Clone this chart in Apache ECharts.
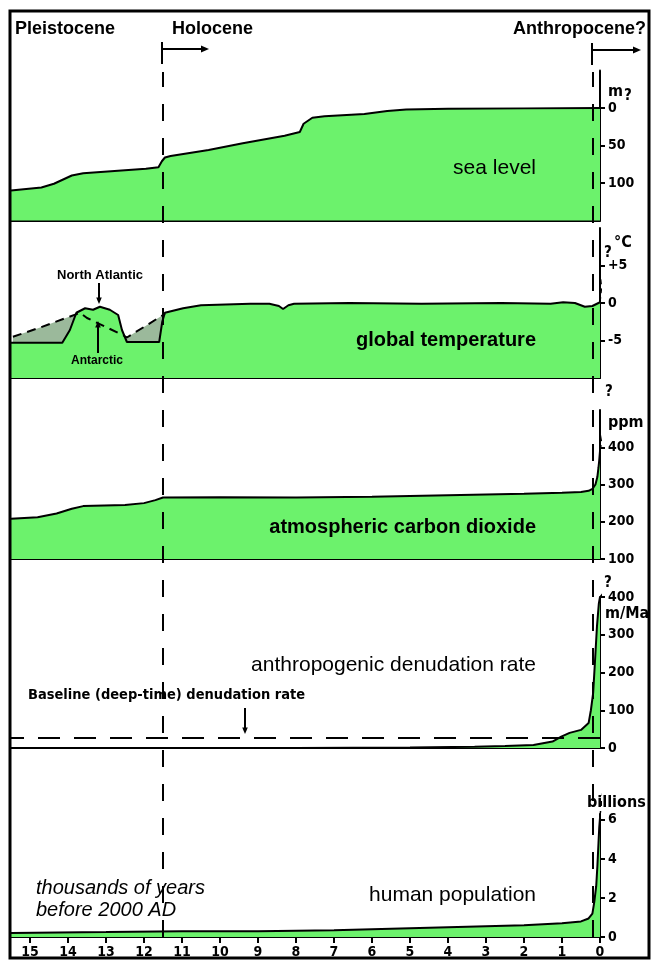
<!DOCTYPE html>
<html><head><meta charset="utf-8">
<script src="https://cdn.jsdelivr.net/npm/echarts@6/dist/echarts.min.js"></script>
<style>html,body{margin:0;padding:0;background:#fff}#c{width:651px;height:961px}</style>
</head><body><div id="c"></div><script>
// ---- data (x = thousands of years before 2000 AD) ----
const xTickValues = [0,1,2,3,4,5,6,7,8,9,10,11,12,13,14,15];
const epochBoundaries = [11.5, 0.2];
const seaTicks = [0, 50, 100];
const tempTicks = [5, 0, -5];
const co2Ticks = [100, 200, 300, 400];
const denTicks = [0, 100, 200, 300, 400];
const popTicks = [0, 2, 4, 6];
const seaLevel = [[15.5,110],[14.7,106],[14.37,101],[13.9,90],[13.6,87],[11.95,81],[11.62,79],[11.53,71],[11.45,66],[11.3,64],[10.3,56],[9.4,47],[8.3,37],[7.9,32],[7.8,21],[7.57,13],[7.25,11],[6.2,8],[5.6,4],[5.1,2],[4.0,1],[2,0.5],[0,0]];
const seaProjection = [[0,0],[-0.25,-3],[-0.55,-9]];
const tempNorthAtlantic = [[15.5,-5.3],[14.15,-5.3],[13.95,-3.6],[13.78,-1.3],[13.55,-0.7],[13.34,-0.9],[13.16,-0.5],[12.9,-0.9],[12.68,-1.6],[12.58,-3.6],[12.45,-5.2],[11.6,-5.2],[11.52,-2.5],[11.45,-1.3],[10.97,-0.7],[10.5,-0.3],[9.2,-0.1],[8.7,-0.1],[8.45,-0.4],[8.34,-0.8],[8.2,-0.3],[8.05,-0.1],[6.6,0],[4.7,-0.1],[2.6,0],[1.3,-0.1],[0.97,0.1],[0.66,0],[0.4,-0.5],[0.2,-0.4],[0,0.1]];
const tempAntarctic = [[15.45,-4.5],[14.75,-3.3],[13.68,-1.3],[13.5,-2.0],[12.55,-4.3],[12.45,-4.6],[11.97,-3.1],[11.5,-1.6],[11.45,-1.4]];
const tempProjection = [[0,0.1],[-0.1,5]];
const co2 = [[15.5,208],[14.8,212],[14.3,222],[13.9,235],[13.6,242],[12.5,245],[12.0,250],[11.7,258],[11.5,265],[10,266],[8,265],[6,267],[4,271],[2,275],[1,278],[0.5,280],[0.3,283],[0.2,288],[0.12,300],[0.07,320],[0.04,345],[0.02,365],[0,390]];
const co2Projection = [[0,390],[-0.15,480]];
const denudation = [[15.5,0],[8,0],[5,1],[3.3,3],[2.5,5],[1.75,8],[1.25,17],[1.02,30],[0.8,40],[0.5,48],[0.3,66],[0.24,100],[0.18,146],[0.13,233],[0.08,322],[0.03,383],[0,400]];
const denProjection = [[0,400],[-0.2,425]];
const baselineDenudation = 26;
const population = [[15.5,0.2],[13,0.25],[11,0.3],[9,0.3],[7,0.35],[5,0.45],[3,0.55],[2,0.6],[1,0.7],[0.5,0.8],[0.3,0.95],[0.2,1.2],[0.15,1.8],[0.1,2.6],[0.07,3.6],[0.04,4.8],[0.02,5.6],[0,6.1]];
const popProjection = [[0,6.2],[-0.12,8.2]];

// ---- styling ----
const GREEN = '#6cf26c', GRAY = '#9bb99b';
const NARROW = "'Liberation Sans Narrow','DejaVu Sans Condensed',sans-serif";
const SANS = "'Liberation Sans',Arial,sans-serif";
const L = 11, R = 51;
const panels = [
  {top:70.5, h:150, min:-50, max:150, inverse:true, ticks:seaTicks},
  {top:228, h:150, min:-10, max:10, ticks:tempTicks},
  {top:410, h:149, min:100, max:500, ticks:co2Ticks},
  {top:597, h:151, min:0, max:400, ticks:denTicks},
  {top:814, h:123, min:0, max:6.3, ticks:popTicks},
  {top:72, h:865, min:0, max:1, overlay:true}
];
const grid = panels.map(p => ({left:L, right:R, top:p.top, height:p.h}));
const xAxis = panels.map((p,i) => ({
  type:'value', gridIndex:i, min:0, max:15.5, inverse:true,
  show: !p.overlay,
  axisLine:{show:true, onZero:false, lineStyle:{color:'#000', width:2}},
  axisTick:{show:i===4, customValues:xTickValues, length:6, lineStyle:{color:'#000', width:2}},
  axisLabel:{show:i===4, customValues:xTickValues, color:'#000', fontFamily:NARROW, fontWeight:'bold', fontSize:14, margin:8},
  splitLine:{show:false}
}));
const yAxis = panels.map((p,i) => ({
  type:'value', gridIndex:i, min:p.min, max:p.max, inverse:!!p.inverse, position:'right',
  show: !p.overlay,
  axisLine:{show:true, onZero:false, lineStyle:{color:'#000', width:2}},
  axisTick:{show:true, customValues:p.ticks, length:5, lineStyle:{color:'#000', width:2}},
  axisLabel:{show:true, customValues:p.ticks, color:'#000', fontFamily:NARROW, fontWeight:'bold', fontSize:14, margin:8,
    formatter: v => (i===1 && v>0 ? '+'+v : String(v))},
  splitLine:{show:false}
}));
function areaSeries(i, data, origin, fill, z){
  return {type:'line', xAxisIndex:i, yAxisIndex:i, data, showSymbol:false, symbol:'none', z,
    lineStyle:{color:'#000', width:2}, areaStyle:{color:fill, opacity:1, origin}};
}
function dashSeries(i, data, z, dash, width){
  return {type:'line', xAxisIndex:i, yAxisIndex:i, data, showSymbol:false, symbol:'none', clip:false, z,
    lineStyle:{color:'#000', width:width||1.5, type:dash||[5,4]}};
}
const series = [
  areaSeries(0, seaLevel, 'end', GREEN, 2),
  dashSeries(0, seaProjection, 3, 'solid', 1.5),
  {type:'line', xAxisIndex:1, yAxisIndex:1, data:tempAntarctic, showSymbol:false, symbol:'none', z:1,
    lineStyle:{width:0}, areaStyle:{color:GRAY, opacity:1, origin:'start'}},
  areaSeries(1, tempNorthAtlantic, 'start', GREEN, 2),
  dashSeries(1, tempAntarctic, 3, [9,6], 2),
  dashSeries(1, tempProjection, 3, [5,4], 1.5),
  areaSeries(2, co2, 'start', GREEN, 2),
  dashSeries(2, co2Projection, 3, [6,4], 1.5),
  Object.assign(areaSeries(3, denudation, 'start', GREEN, 2), {
    markLine:{silent:true, symbol:['none','none'], label:{show:false},
      lineStyle:{color:'#000', width:2, type:[22,14]}, data:[{yAxis:baselineDenudation}]}}),
  dashSeries(3, denProjection, 3, [4,3], 1.5),
  areaSeries(4, population, 'start', GREEN, 2),
  dashSeries(4, popProjection, 3, [5,5], 1.5),
  {type:'line', xAxisIndex:5, yAxisIndex:5, data:[[epochBoundaries[0],0.5]], showSymbol:false, symbol:'none', z:5,
    lineStyle:{width:0},
    markLine:{silent:true, symbol:['none','none'], label:{show:false},
      lineStyle:{color:'#000', width:2, type:[17,17]}, data:epochBoundaries.map(v=>({xAxis:v}))}}
];

function txt(x, y, s, font, align){
  return {type:'text', z:50, style:{x, y, text:s, fill:'#000', font, textAlign:align||'left', textVerticalAlign:'middle'}};
}
function arrow(x1,y1,x2,y2,head){
  head = head||6;
  const a = Math.atan2(y2-y1, x2-x1);
  const p = [[x2,y2],[x2-head*1.6*Math.cos(a)+head*0.7*Math.sin(a), y2-head*1.6*Math.sin(a)-head*0.7*Math.cos(a)],
             [x2-head*1.6*Math.cos(a)-head*0.7*Math.sin(a), y2-head*1.6*Math.sin(a)+head*0.7*Math.cos(a)]];
  return [{type:'line', z:50, shape:{x1,y1,x2:x2-head*Math.cos(a),y2:y2-head*Math.sin(a)}, style:{stroke:'#000', lineWidth:2}},
          {type:'polygon', z:50, shape:{points:p}, style:{fill:'#000'}}];
}
const HEAD = "bold 18px " + SANS;
const graphic = [].concat(
  [{type:'rect', z:100, shape:{x:10,y:11,width:639,height:947}, style:{fill:'none', stroke:'#000', lineWidth:3}}],
  [txt(15, 29, 'Pleistocene', HEAD), txt(172, 29, 'Holocene', HEAD), txt(646, 29, 'Anthropocene?', HEAD, 'right')],
  [{type:'line', z:50, shape:{x1:162,y1:42,x2:162,y2:64}, style:{stroke:'#000', lineWidth:2}}], arrow(162,49,209,49,5),
  [{type:'line', z:50, shape:{x1:592,y1:43,x2:592,y2:65}, style:{stroke:'#000', lineWidth:2}}], arrow(592,50,641,50,5),
  [txt(536, 168, 'sea level', "21px " + SANS, 'right'),
   txt(536, 340, 'global temperature', "bold 20px " + SANS, 'right'),
   txt(536, 527, 'atmospheric carbon dioxide', "bold 20px " + SANS, 'right'),
   txt(536, 665, 'anthropogenic denudation rate', "21px " + SANS, 'right'),
   txt(536, 895, 'human population', "21px " + SANS, 'right'),
   txt(36, 888, 'thousands of years', "italic 20px " + SANS),
   txt(36, 910, 'before 2000 AD', "italic 20px " + SANS),
   txt(28, 695, 'Baseline (deep-time) denudation rate', "bold 14.5px " + NARROW),
   txt(100, 275, 'North Atlantic', "bold 13px " + SANS, 'center'),
   txt(97, 361, 'Antarctic', "bold 12px " + SANS, 'center')],
  arrow(99,283,99,304,4), arrow(98,353,98,321,4), arrow(245,708,245,734,4),
  [txt(608, 92, 'm', "bold 16px " + NARROW), txt(624, 96, '?', "bold 15px " + NARROW),
   txt(614, 243, '°C', "bold 16px " + NARROW), txt(604, 253, '?', "bold 15px " + NARROW),
   txt(608, 423, 'ppm', "bold 16px " + NARROW), txt(605, 392, '?', "bold 15px " + NARROW),
   txt(605, 614, 'm/Ma', "bold 16px " + NARROW), txt(604, 583, '?', "bold 15px " + NARROW),
   txt(587, 803, 'billions', "bold 16px " + NARROW)]
);

const chart = echarts.init(document.getElementById('c'), null, {renderer:'canvas'});
chart.setOption({animation:false, backgroundColor:'#fff', grid, xAxis, yAxis, series, graphic});
</script></body></html>
